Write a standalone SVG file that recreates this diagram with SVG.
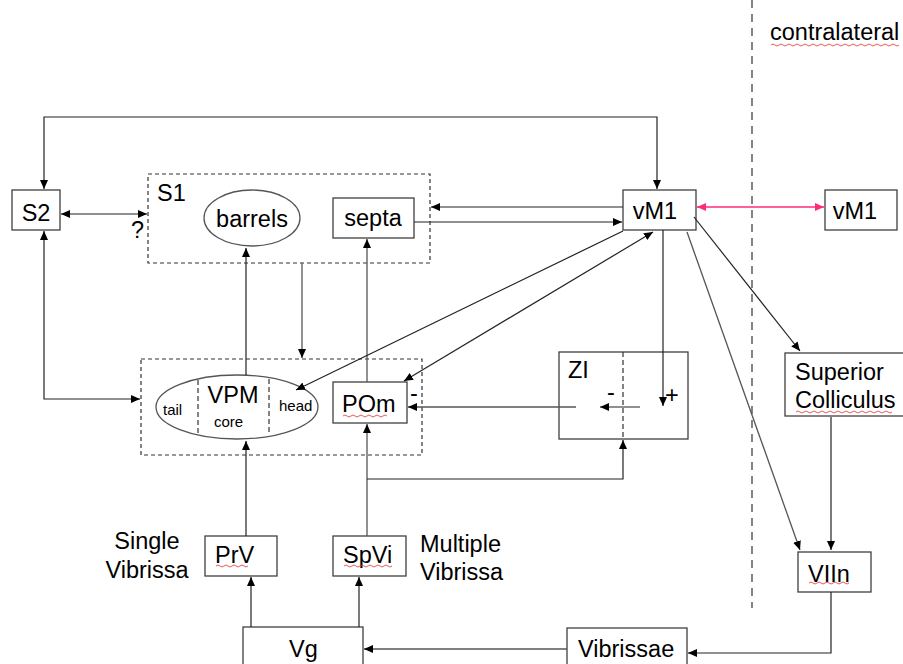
<svg xmlns="http://www.w3.org/2000/svg" width="903" height="664" viewBox="0 0 903 664">
<style>
text{font-family:"Liberation Sans",Arial,sans-serif;fill:#000}
.t{font-size:23.5px}
.s{font-size:15px}
.box{fill:#fff;stroke:#404040;stroke-width:1.3}
.dbox{fill:none;stroke:#333;stroke-width:1.2;stroke-dasharray:4 3}
.ell{fill:#fff;stroke:#555;stroke-width:1.3}
.c{fill:none;stroke:#222;stroke-width:1.2}
.g{fill:none;stroke:#555;stroke-width:1.3}
.sq{fill:none;stroke:#e03030;stroke-width:0.8}
</style>
<defs>
<marker id="a" markerUnits="userSpaceOnUse" markerWidth="10" markerHeight="10" viewBox="0 0 10 10" refX="9" refY="5" orient="auto-start-reverse"><path d="M0,1 L9,5 L0,9 Z" fill="#000"/></marker>
<marker id="p" markerUnits="userSpaceOnUse" markerWidth="10" markerHeight="10" viewBox="0 0 10 10" refX="9" refY="5" orient="auto-start-reverse"><path d="M0,1 L9,5 L0,9 Z" fill="#ff2a7a"/></marker>
</defs>

<path d="M752,0 V608" fill="none" stroke="#444" stroke-width="1.3" stroke-dasharray="8 6"/>
<text class="t" x="770" y="40">contralateral</text>
<path class="sq" d="M771,45 q2,-2 4,0 t4,0 t4,0 t4,0 t4,0 t4,0 t4,0 t4,0 t4,0 t4,0 t4,0 t4,0 t4,0 t4,0 t4,0 t4,0 t4,0 t4,0 t4,0 t4,0 t4,0 t4,0 t4,0 t4,0 t4,0 t4,0 t4,0 t4,0 t4,0 t4,0 t4,0 t4,0"/>

<g id="S2">
<rect class="box" x="12" y="190" width="48" height="40"/>
<text class="t" x="36" y="221" text-anchor="middle">S2</text>
</g>
<text class="t" x="131" y="238">?</text>

<g id="S1">
<rect class="dbox" x="148" y="174" width="282" height="89"/>
<text class="t" x="157" y="201">S1</text>
</g>
<g id="barrels">
<ellipse class="ell" cx="252" cy="218" rx="48" ry="28"/>
<text class="t" x="252" y="227" text-anchor="middle">barrels</text>
</g>
<g id="septa">
<rect class="box" x="333" y="198" width="81" height="40"/>
<text class="t" x="373" y="226" text-anchor="middle">septa</text>
</g>

<g id="vM1">
<rect class="box" x="623" y="190" width="73" height="40"/>
<text class="t" x="655" y="219" text-anchor="middle">vM1</text>
</g>
<g id="vM1c">
<rect class="box" x="825" y="190" width="72" height="40"/>
<text class="t" x="855" y="219" text-anchor="middle">vM1</text>
</g>

<g id="thalamus">
<rect class="dbox" x="141" y="359" width="281" height="96"/>
</g>
<g id="VPM">
<ellipse class="ell" cx="237" cy="407" rx="81" ry="32"/>
<path d="M198,380 V434 M269,379 V435" fill="none" stroke="#333" stroke-width="1.2" stroke-dasharray="5 3"/>
<text class="t" x="233" y="403" text-anchor="middle">VPM</text>
<text class="s" x="163" y="415">tail</text>
<text class="s" x="214" y="427">core</text>
<text class="s" x="279" y="411">head</text>
</g>
<g id="POm">
<rect class="box" x="333" y="382" width="74" height="41"/>
<text class="t" x="342" y="412">POm</text>
<path class="sq" d="M343,416 q2,-2 4,0 t4,0 t4,0 t4,0 t4,0 t4,0 t4,0 t4,0 t4,0 t4,0 t4,0"/>
</g>
<text class="t" x="410" y="401">-</text>

<g id="ZI">
<rect class="box" x="559" y="352" width="129" height="87"/>
<path d="M623,352 V439" fill="none" stroke="#333" stroke-width="1.2" stroke-dasharray="5 3"/>
<text class="t" x="568" y="378">ZI</text>
<text class="t" x="607" y="400">-</text>
<text class="t" x="665" y="403">+</text>
</g>

<g id="SC">
<rect class="box" x="785" y="353" width="125" height="63"/>
<text class="t" x="795" y="380">Superior</text>
<text class="t" x="795" y="408">Colliculus</text>
<path class="sq" d="M796,412 q2,-2 4,0 t4,0 t4,0 t4,0 t4,0 t4,0 t4,0 t4,0 t4,0 t4,0 t4,0 t4,0 t4,0 t4,0 t4,0 t4,0 t4,0 t4,0 t4,0 t4,0 t4,0 t4,0 t4,0 t4,0"/>
</g>

<g id="VIIn">
<rect class="box" x="798" y="552" width="73" height="40"/>
<text class="t" x="808" y="582">VIIn</text>
<path class="sq" d="M809,583 q2,-2 4,0 t4,0 t4,0 t4,0 t4,0 t4,0 t4,0 t4,0 t4,0 t4,0"/>
</g>

<g id="Vibrissae">
<rect class="box" x="567" y="628" width="120" height="50"/>
<text class="t" x="578" y="657">Vibrissae</text>
</g>

<g id="Vg">
<rect class="box" x="243" y="627" width="120" height="50"/>
<text class="t" x="289" y="657">Vg</text>
</g>

<g id="PrV">
<rect class="box" x="205" y="536" width="72" height="40"/>
<text class="t" x="215" y="563">PrV</text>
<path class="sq" d="M216,566 q2,-2 4,0 t4,0 t4,0 t4,0 t4,0 t4,0 t4,0 t4,0"/>
</g>
<g id="SpVi">
<rect class="box" x="333" y="536" width="73" height="40"/>
<text class="t" x="343" y="563">SpVi</text>
<path class="sq" d="M344,566 q2,-2 4,0 t4,0 t4,0 t4,0 t4,0 t4,0 t4,0 t4,0 t4,0 t4,0 t4,0 t4,0"/>
</g>

<text class="t" x="147" y="549" text-anchor="middle">Single</text>
<text class="t" x="147" y="578" text-anchor="middle">Vibrissa</text>
<text class="t" x="420" y="552">Multiple</text>
<text class="t" x="420" y="580">Vibrissa</text>

<g id="connectors">
<path class="c" d="M44,189 V117 H657 V189" marker-start="url(#a)" marker-end="url(#a)"/>
<path class="c" d="M61,214 H147" marker-start="url(#a)" marker-end="url(#a)"/>
<path class="c" d="M623,207 H431" marker-end="url(#a)"/>
<path class="c" d="M414,222 H622" marker-end="url(#a)"/>
<path d="M697,207 H824" fill="none" stroke="#ff2a7a" stroke-width="1.3" marker-start="url(#p)" marker-end="url(#p)"/>
<path class="c" d="M44,231 V399 H140" marker-start="url(#a)" marker-end="url(#a)"/>
<path class="g" d="M302,263 V358" marker-end="url(#a)"/>
<path class="c" d="M246,375 V248" marker-end="url(#a)"/>
<path class="g" d="M367,382 V239" marker-end="url(#a)"/>
<path class="c" d="M623,231 L296,390" marker-end="url(#a)"/>
<path class="c" d="M404,381 L653,232" marker-start="url(#a)" marker-end="url(#a)"/>
<path class="c" d="M663,230 V406" marker-end="url(#a)"/>
<path class="c" d="M640,407 H600" marker-end="url(#a)"/>
<path class="g" d="M576,407 H408" marker-end="url(#a)"/>
<path class="c" d="M694,217 L800,351" marker-end="url(#a)"/>
<path class="g" d="M687,232 L800,550" marker-end="url(#a)"/>
<path class="c" d="M831,417 V550" marker-end="url(#a)"/>
<path class="c" d="M831,592 V653 H688" marker-end="url(#a)"/>
<path class="g" d="M567,649 H364" marker-end="url(#a)"/>
<path class="c" d="M251,627 V577" marker-end="url(#a)"/>
<path class="c" d="M359,627 V577" marker-end="url(#a)"/>
<path class="c" d="M246,536 V441" marker-end="url(#a)"/>
<path class="g" d="M367,536 V424" marker-end="url(#a)"/>
<path class="c" d="M367,479 H623 V440" marker-end="url(#a)"/>
</g>
</svg>
